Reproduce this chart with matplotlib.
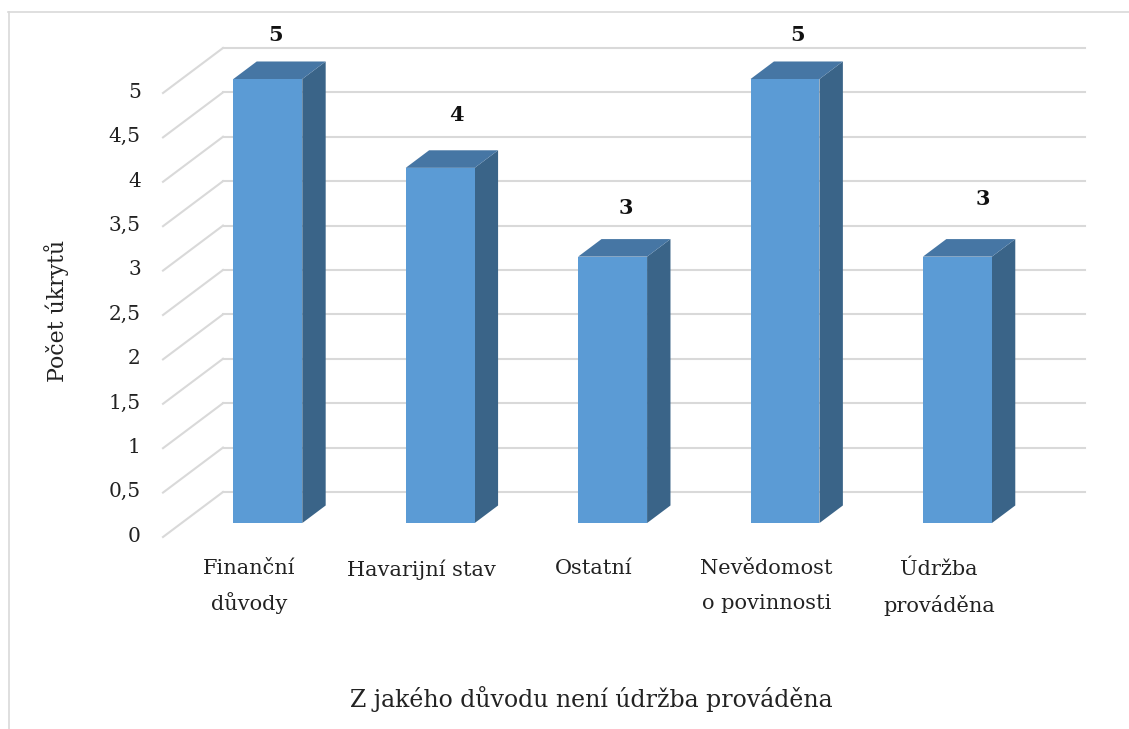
import matplotlib

matplotlib.use("Agg")
import matplotlib.pyplot as plt
from matplotlib.lines import Line2D
from matplotlib.patches import Polygon
from matplotlib.transforms import ScaledTranslation

categories = ["Finanční\ndůvody", "Havarijní stav", "Ostatní", "Nevědomost\no povinnosti", "Údržba\nprováděna"]
values = [5, 4, 3, 5, 3]
y_ticks = [0, 0.5, 1, 1.5, 2, 2.5, 3, 3.5, 4, 4.5, 5]
y_tick_labels = ["0", "0,5", "1", "1,5", "2", "2,5", "3", "3,5", "4", "4,5", "5"]
x_title = "Z jakého důvodu není údržba prováděna"
y_title = "Počet úkrytů"

# data labels were moved by hand in the original, offsets in px from bar top
label_offsets = [(8, 44), (16, 53), (13, 49), (13, 44), (25, 58)]
# line gap depends on glyph heights, so each label gets its own spacing
label_spacing = [1.75, 1.75, 1.75, 2.05, 1.95]

W, H = 1129, 729
FONT = "DejaVu Serif"
GRID = "#D9D9D9"
FRONT = "#5B9BD5"
TOP = "#4676A4"
SIDE = "#3A6488"

# fake 3D: depth of the floor in data units (60 px right, 45 px up)
DEPTH_X = 60 / 172.4
DEPTH_Y = 0.507
BAR_FRONT = 0.31
BAR_BACK = 0.70
BAR_WIDTH = 0.4


def shifted(x, y, depth):
    return (x + DEPTH_X * depth, y + DEPTH_Y * depth)


fig = plt.figure(figsize=(W / 100, H / 100), dpi=100)
ax = fig.add_axes([163 / W, 1 - 537 / H, 862 / W, 444 / H])
ax.set_xlim(-0.5, 4.5)
ax.set_ylim(0, 5)
for spine in ax.spines.values():
    spine.set_visible(False)
ax.patch.set_visible(False)

for v in y_ticks:
    ax.plot(
        [-0.5, shifted(-0.5, v, 1)[0]],
        [v, shifted(-0.5, v, 1)[1]],
        color=GRID,
        linewidth=1.5,
        clip_on=False,
        zorder=1,
    )
    ax.plot(
        [shifted(-0.5, v, 1)[0], shifted(4.5, v, 1)[0]],
        [shifted(-0.5, v, 1)[1], shifted(4.5, v, 1)[1]],
        color=GRID,
        linewidth=1.5,
        clip_on=False,
        zorder=1,
    )

for i, v in enumerate(values):
    left = i - BAR_WIDTH / 2
    right = i + BAR_WIDTH / 2
    front = [
        shifted(left, 0, BAR_FRONT),
        shifted(right, 0, BAR_FRONT),
        shifted(right, v, BAR_FRONT),
        shifted(left, v, BAR_FRONT),
    ]
    side = [
        shifted(right, 0, BAR_FRONT),
        shifted(right, 0, BAR_BACK),
        shifted(right, v, BAR_BACK),
        shifted(right, v, BAR_FRONT),
    ]
    top = [
        shifted(left, v, BAR_FRONT),
        shifted(right, v, BAR_FRONT),
        shifted(right, v, BAR_BACK),
        shifted(left, v, BAR_BACK),
    ]
    ax.add_patch(Polygon(side, closed=True, facecolor=SIDE, edgecolor="none", clip_on=False, zorder=2))
    ax.add_patch(Polygon(top, closed=True, facecolor=TOP, edgecolor="none", clip_on=False, zorder=2))
    ax.add_patch(Polygon(front, closed=True, facecolor=FRONT, edgecolor="none", clip_on=False, zorder=3))
    ax.annotate(
        str(v),
        shifted(i, v, BAR_FRONT),
        xytext=(label_offsets[i][0] * 0.72, label_offsets[i][1] * 0.72),
        textcoords="offset points",
        ha="center",
        va="center",
        fontsize=15,
        fontweight="bold",
        family=FONT,
        color="#111111",
        annotation_clip=False,
    )

ax.set_yticks(y_ticks)
ax.set_yticklabels(y_tick_labels, fontsize=14.5, family=FONT, color="#222222")
ax.set_xticks(range(len(categories)))
ax.set_xticklabels(categories, fontsize=15, family=FONT, color="#222222")
for label, spacing in zip(ax.get_xticklabels(), label_spacing):
    label.set_linespacing(spacing)
ax.tick_params(axis="both", length=0)
ax.tick_params(axis="y", pad=16)
ax.tick_params(axis="x", pad=16)

# numbers sit a little above their floor line in the original
nudge = ScaledTranslation(0, 2 / 72, fig.dpi_scale_trans)
for label in ax.get_yticklabels():
    label.set_transform(label.get_transform() + nudge)

fig.text(591 / W, 1 - 699 / H, x_title, ha="center", va="center", fontsize=17, family=FONT, color="#222222")
fig.text(57 / W, 1 - 311 / H, y_title, ha="center", va="center", rotation=90, fontsize=15.8, family=FONT, color="#222222")

# chart border, only top and left end up inside the crop
fig.add_artist(Line2D([8.5 / W, 8.5 / W], [0, 1 - 12 / H], color=GRID, linewidth=1.2))
fig.add_artist(Line2D([8 / W, 1], [1 - 12 / H, 1 - 12 / H], color=GRID, linewidth=1.2))

fig.savefig("out.png", dpi=100)
plt.close(fig)
